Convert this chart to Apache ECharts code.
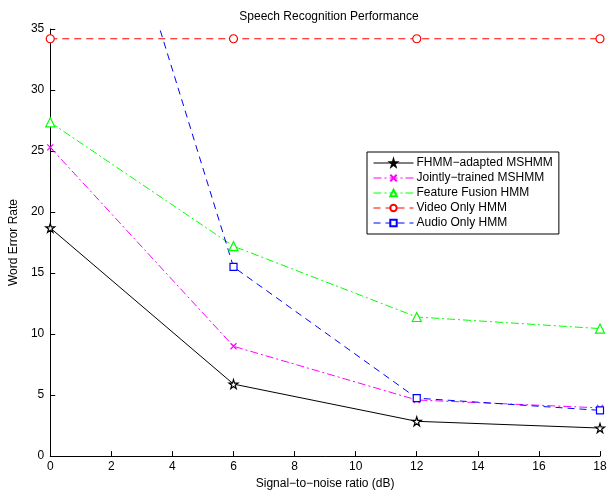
<!DOCTYPE html>
<html><head><meta charset="utf-8">
<script src="https://cdn.jsdelivr.net/npm/echarts@6/dist/echarts.min.js"></script>
<style>html,body{margin:0;padding:0;background:#fff}#c{width:615px;height:495px}</style>
</head><body><div id="c"></div>
<script>
const snr = [0, 6, 12, 18];
const fhmm = [18.7, 5.9, 2.85, 2.3];
const jointly = [25.3, 9.0, 4.6, 3.95];
const fusion = [27.35, 17.2, 11.4, 10.45];
const video = [34.2, 34.2, 34.2, 34.2];
const audio = [64.0, 15.5, 4.75, 3.75];
const seriesNames = ['FHMM\u2212adapted MSHMM', 'Jointly\u2212trained MSHMM', 'Feature Fusion HMM', 'Video Only HMM', 'Audio Only HMM'];
const xTicks = [0, 2, 4, 6, 8, 10, 12, 14, 16, 18];
const yTicks = [0, 5, 10, 15, 20, 25, 30, 35];

const FONT = 'Liberation Sans, Arial, Helvetica, sans-serif';
const star = 'path://M50,0 L61,35 L98,35 L68,57 L79,91 L50,70 L21,91 L32,57 L2,35 L39,35 Z';
const cross = 'path://M0,0 L10,10 M10,0 L0,10';
function pairs(v){ return snr.map((x,i)=>[x, v[i]]); }
function mk(name, data, color, dash, symbol, size){
  return {
    name, type:'line', data: pairs(data), clip:true,
    symbol, symbolSize:size, showAllSymbol:true,
    lineStyle:{color, width:1, type:dash},
    itemStyle:{color:'#fff', borderColor:color, borderWidth:1.2},
    emphasis:{disabled:true}, animation:false
  };
}
const chart = echarts.init(document.getElementById('c'));
chart.setOption({
  animation:false,
  textStyle:{fontFamily:FONT},
  title:{text:'Speech Recognition Performance', left:324, textAlign:'center', top:6,
    textStyle:{fontSize:12, fontWeight:'normal', color:'#000', fontFamily:FONT}},
  grid:{left:48, right:15, top:29, bottom:31},
  xAxis:{type:'value', min:xTicks[0], max:xTicks[xTicks.length-1], interval:2,
    name:'Signal\u2212to\u2212noise ratio (dB)', nameLocation:'middle', nameGap:18,
    nameTextStyle:{fontSize:12, color:'#000', fontFamily:FONT},
    axisLine:{lineStyle:{color:'#000', width:1}},
    axisTick:{inside:true, length:5, lineStyle:{color:'#000'}},
    axisLabel:{color:'#000', fontSize:12, margin:5, fontFamily:FONT},
    splitLine:{show:false}},
  yAxis:{type:'value', min:yTicks[0], max:yTicks[yTicks.length-1], interval:5,
    name:'Word Error Rate', nameLocation:'middle', nameGap:24, nameRotate:90,
    nameTextStyle:{fontSize:12, color:'#000', fontFamily:FONT},
    axisLine:{show:true, lineStyle:{color:'#000', width:1}},
    axisTick:{show:true, inside:true, length:5, lineStyle:{color:'#000'}},
    axisLabel:{color:'#000', fontSize:12, margin:6, fontFamily:FONT},
    splitLine:{show:false}},
  legend:{orient:'vertical', left:367, top:152, width:195,
    itemWidth:40, itemHeight:8, itemGap:3,
    padding:[5,6,5,6], borderColor:'#000', borderWidth:1, backgroundColor:'#fff',
    lineStyle:{width:1},
    textStyle:{fontSize:12, color:'#000', fontFamily:FONT, padding:[0,0,0,-2]},
    data:seriesNames},
  series:[
    mk(seriesNames[0], fhmm, '#000000', 'solid', star, 9),
    mk(seriesNames[1], jointly, '#ff00ff', [8,3,2,3], cross, 6),
    mk(seriesNames[2], fusion, '#00ff00', [8,3,2,3], 'triangle', 9),
    mk(seriesNames[3], video, '#ff0000', [7,5], 'circle', 8),
    mk(seriesNames[4], audio, '#0000ff', [7,5], 'rect', 7)
  ]
});
</script></body></html>
